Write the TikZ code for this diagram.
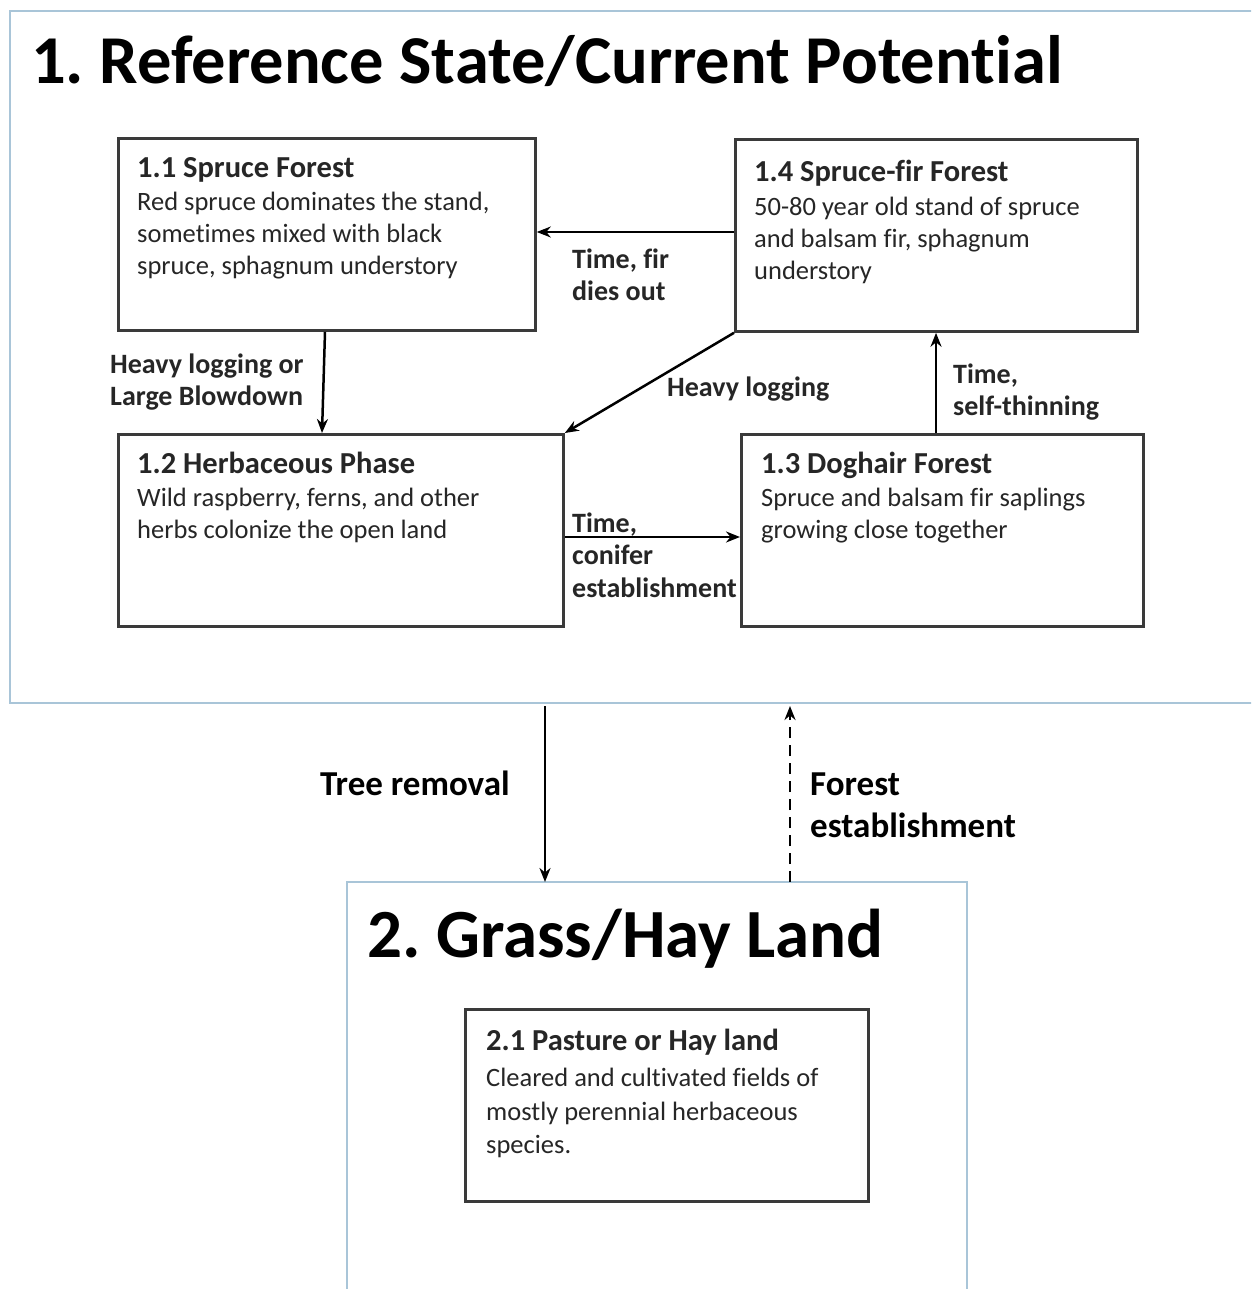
\documentclass[tikz,border=0pt]{standalone}
\usepackage{fontspec}
\setmainfont{Carlito}[Ligatures=NoCommon]
\usetikzlibrary{arrows.meta}
\frenchspacing
\definecolor{frameblue}{HTML}{A9C5D8}
\definecolor{boxgray}{HTML}{3A3A3A}
\definecolor{txtgray}{HTML}{262626}
\tikzset{
  statebox/.style={draw=frameblue, line width=2.6pt, fill=none},
  phasebox/.style={draw=boxgray, line width=2.8pt, fill=white, inner sep=0pt, anchor=north west},
  boxtext/.style={anchor=north west, inner sep=0pt, align=left, text=txtgray, font=\fontsize{26.5}{32}\selectfont},
  lbl/.style={anchor=north west, inner sep=0pt, align=left, text=txtgray, font=\bfseries\fontsize{28}{32.5}\selectfont},
  biglbl/.style={anchor=north west, inner sep=0pt, align=left, font=\bfseries\fontsize{35}{42}\selectfont},
  arr/.style={line width=2.5pt, -{Stealth[length=14pt,width=11pt]}},
}
\newcommand{\boxhead}[1]{{\bfseries\fontsize{30.5}{32}\selectfont\rule{0pt}{22pt}#1}}
\newcommand{\lstrut}{\rule{0pt}{21pt}}
\begin{document}
\begin{tikzpicture}[x=1pt,y=-1pt]
\useasboundingbox (0,0) rectangle (1251,1289);
\fill[white] (0,0) rectangle (1251,1289);
\begin{scope}
\clip (0,0) rectangle (1251,1289);
\draw[statebox] (10,11) rectangle (1262,703);
\draw[statebox] (347,882) rectangle (967,1310);
\end{scope}
\node[anchor=base west, inner sep=0pt, font=\bfseries\fontsize{68.5}{80}\selectfont] (t1) at (31,84) {1. Reference State/Current Potential};
\node[anchor=base west, inner sep=0pt, font=\bfseries\fontsize{69}{80}\selectfont] (t2) at (367,957) {2. Grass/Hay Land};

\node[phasebox, minimum width=417pt, minimum height=192pt] (b11) at (117,137) {};
\node[phasebox, minimum width=402pt, minimum height=192pt] (b14) at (734,138) {};
\node[phasebox, minimum width=445pt, minimum height=192pt] (b12) at (117,433) {};
\node[phasebox, minimum width=402pt, minimum height=192pt] (b13) at (740,433) {};
\node[phasebox, minimum width=403pt, minimum height=192pt] (b21) at (464,1008) {};

\node[boxtext] (x11) at (137,155) {\boxhead{1.1 Spruce Forest}\\[1pt]Red spruce dominates the stand,\\sometimes mixed with black\\spruce, sphagnum understory};
\node[boxtext] (x14) at (754,159) {\boxhead{1.4 Spruce-fir Forest}\\[2pt]50-80 year old stand of spruce\\and balsam fir, sphagnum\\understory};
\node[boxtext] (x12) at (137,451) {\boxhead{1.2 Herbaceous Phase}\\[1pt]Wild raspberry, ferns, and other\\herbs colonize the open land};
\node[boxtext] (x13) at (761,451) {\boxhead{1.3 Doghair Forest}\\[1pt]Spruce and balsam fir saplings\\growing close together};
\node[boxtext, font=\fontsize{26.5}{33.5}\selectfont] (x21) at (486,1028) {\boxhead{2.1 Pasture or Hay land}\\[3pt]Cleared and cultivated fields of\\mostly perennial herbaceous\\species.};

\draw[arr] (b14.west |- 0,232) -- (b11.east |- 0,232);
\draw[arr] ([xshift=208pt]b11.south west) -- ([xshift=205pt]b12.north west);
\draw[arr] (b14.south west) -- (b12.north east);
\draw[arr] (b12.east |- 0,537) -- (b13.west |- 0,537);
\draw[arr] ([xshift=196pt]b13.north west) -- ([xshift=202pt]b14.south west);

\coordinate (c1top) at (545,706);
\coordinate (c2top) at (545,882);
\draw[arr] (c1top) -- (c2top);
\coordinate (d1) at (790,882);
\coordinate (d2) at (790,706);
\draw[line width=2.5pt, dash pattern=on 11pt off 7pt, -{Stealth[length=14pt,width=11pt]}] (d1) -- (d2);

\node[lbl] (l1) at (572,247) {\lstrut Time, fir\\dies out};
\node[lbl] (l2) at (110,352) {\lstrut Heavy logging or\\Large Blowdown};
\node[lbl] (l3) at (667,375) {\lstrut Heavy logging};
\node[lbl] (l4) at (572,511) {\lstrut Time,\\conifer\\establishment};
\node[lbl] (l5) at (953,362) {\lstrut Time,\\self-thinning};
\node[biglbl] (l6) at (320,769) {\rule{0pt}{26pt}Tree removal};
\node[biglbl] (l7) at (810,769) {\rule{0pt}{26pt}Forest\\establishment};
\end{tikzpicture}
\end{document}
